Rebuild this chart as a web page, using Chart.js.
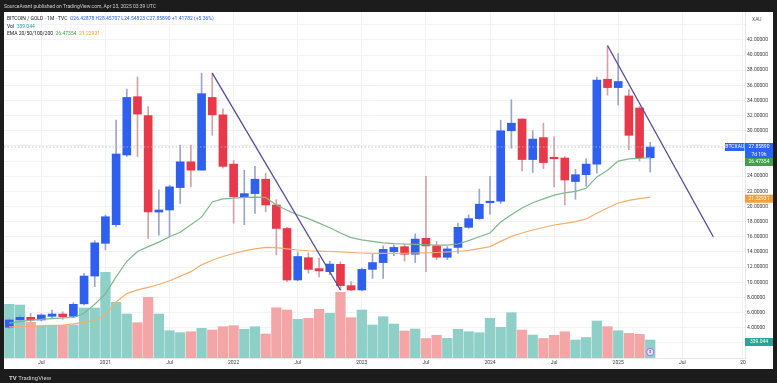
<!DOCTYPE html>
<html><head><meta charset="utf-8">
<script src="https://cdn.jsdelivr.net/npm/chart.js@4.4.0/dist/chart.umd.min.js"></script>
<style>
html,body{margin:0;padding:0;background:#1c1c1c;width:777px;height:383px;overflow:hidden;}
#wrap{position:relative;width:777px;height:383px;}
canvas{position:absolute;left:0;top:0;}
.t{position:absolute;white-space:nowrap;font-family:Roboto,'Liberation Sans',sans-serif;font-size:5px;line-height:6px;z-index:2;}
</style></head><body>
<div id="wrap">
<canvas id="c" width="777" height="383"></canvas>
<div class="t" style="left:4px;top:3px;color:#cfcfcf">SourceAvant published on TradingView.com, Apr 23, 2025 03:39 UTC</div>
<div class="t" style="left:7px;top:15px;color:#131722">BITCOIN / GOLD · 1M · TVC&nbsp;&nbsp;<span style="color:#2962ff">O26.42878 H28.45707 L24.54823 C27.85890 +1.41782 (+5.36%)</span></div>
<div class="t" style="left:7px;top:22.5px;color:#131722">Vol&nbsp;&nbsp;<span style="color:#26a69a">339.044</span></div>
<div class="t" style="left:7px;top:30px;color:#131722">EMA 20/50/100/200&nbsp;&nbsp;<span style="color:#43a047">26.47354</span>&nbsp;&nbsp;<span style="color:#f59d38">21.22931</span></div>
<div class="t" style="left:9px;top:375px;color:#cfcfcf;font-size:6px;"><b>TV</b>&nbsp;TradingView</div>
</div>
<script>
// ---- categories: monthly candles Apr 2020 .. Apr 2025 ----
const monthNames = ['Jan','Feb','Mar','Apr','May','Jun','Jul','Aug','Sep','Oct','Nov','Dec'];
const months = [];
for (let k = 0; k < 61; k++) { const m = (3 + k) % 12, yr = 2020 + Math.floor((3 + k) / 12); months.push(monthNames[m] + ' ' + yr); }

const openV  = [4.05,5.05,5.37,5.02,5.5,5.81,5.5,7.15,10.82,15.14,17.6,26.8,34.5,32.0,19.27,19.54,22.5,25.9,24.8,34.4,32.1,25.6,21.3,21.7,23.6,20.2,17.1,10.3,13.24,11.8,11.4,12.37,9.55,8.98,11.7,12.6,14.03,14.7,13.7,15.8,14.8,13.3,14.6,17.25,18.4,20.5,20.7,30.0,31.55,26.2,29.1,26.5,26.4,23.3,24.2,25.6,36.8,35.7,34.6,33.0,26.42878];
const highV  = [5.2,5.68,5.9,5.85,6.34,6.1,7.3,11.18,15.5,18.88,31.4,35.5,37.1,33.2,22.2,22.8,28.1,28.1,37.6,37.6,32.9,26.1,24.8,25.3,24.4,20.9,17.3,14.0,13.9,13.2,12.8,12.7,10.1,11.9,13.7,14.8,14.9,15.0,16.4,24.0,15.4,14.7,17.8,18.9,22.3,24.0,31.4,34.1,31.6,30.0,31.0,29.2,26.6,24.9,26.3,37.1,41.2,40.2,35.4,33.2,28.45707];
const lowV   = [3.9,4.93,4.8,4.9,5.24,5.1,5.3,7.0,9.41,14.26,17.3,26.6,26.6,15.8,16.2,16.0,20.4,22.6,24.8,29.4,25.1,17.8,17.6,19.1,19.3,13.6,10.1,10.2,11.2,10.7,11.0,8.98,8.9,8.9,10.5,10.5,13.5,12.8,12.6,11.4,13.0,13.0,13.8,17.1,18.3,19.0,20.4,27.7,24.7,24.5,25.0,22.6,20.2,20.95,22.7,24.4,34.7,33.4,27.5,26.0,24.54823];
const closeV = [5.02,5.37,5.02,5.68,5.81,5.46,7.09,10.82,15.2,18.65,26.93,34.4,32.2,19.3,19.54,22.6,25.9,24.8,34.9,32.1,25.3,21.3,21.7,23.6,20.2,17.1,10.3,13.4,11.7,11.5,12.4,9.55,8.98,11.7,12.6,14.35,14.6,13.7,15.7,14.8,13.3,14.4,17.25,18.4,20.3,20.7,30.0,31.0,26.2,28.9,25.8,26.3,23.5,24.2,25.6,36.7,35.7,36.5,29.4,26.44,27.8589];
const volumeV = [1011,998,672,603,603,612,622,942,942,1614,1049,829,665,1143,829,514,477,495,559,527,590,608,541,590,452,947,904,729,748,917,842,1238,759,904,622,778,640,509,546,367,428,371,541,495,477,748,578,853,527,433,367,428,495,339,386,697,590,514,465,446,339.044];
const ema20V = [4.6,4.8,5.0,5.1,5.2,5.3,5.35,5.9,7.1,8.46,10.7,12.77,14.06,14.7,15.3,16.0,16.6,17.6,18.6,20.6,21.0,21.1,21.2,21.25,21.2,20.2,19.5,18.9,18.4,17.8,17.2,16.5,15.9,15.6,15.4,15.2,15.1,15.05,15.0,14.95,14.9,14.9,15.05,15.5,16.0,16.5,17.95,18.9,19.8,20.5,21.0,21.5,21.8,22.0,22.4,23.9,24.8,26.0,26.3,26.35,26.47354];
const ema50V = [4.1,4.15,4.2,4.25,4.3,4.35,4.5,4.7,4.95,5.7,7.4,8.5,9.0,9.33,9.7,10.2,10.8,11.4,12.3,12.9,13.4,13.8,14.15,14.4,14.6,14.56,14.4,14.26,14.16,14.1,14.06,14.0,13.93,13.86,13.82,13.82,13.82,13.83,13.86,13.89,13.93,14.0,14.06,14.2,14.45,14.7,15.4,16.05,16.5,16.9,17.23,17.56,17.78,18.0,18.35,19.1,19.8,20.46,20.82,21.03,21.22931];
const trendLine1 = [{x:19, y:37.6},{x:31, y:8.98}];
const trendLine2 = [{x:56, y:41.25},{x:65.9, y:16.0}];
const lastClose = 27.8589;
const timeTickPos = [3,9,15,21,27,33,39,45,51,57,63,68.68];
const timeTickLabels = ['Jul','2021','Jul','2022','Jul','2023','Jul','2024','Jul','2025','Jul','20'];
const priceTicks = [0,2,4,6,8,10,12,14,16,18,20,22,24,26,28,30,32,34,36,38,40,42,44];

const xMin = -0.495, xMax = 68.87;
const UP = '#2f5fef', DN = '#e8394a';
const isUp = months.map((m,i)=> closeV[i] >= openV[i]);

const bgPlugin = {id:'bg', beforeDraw(chart){
  const c = chart.ctx; c.save();
  c.fillStyle = '#1c1c1c'; c.fillRect(0,0,777,383);
  c.fillStyle = '#ffffff'; c.fillRect(4,12,769,357);
  c.restore();
}};

function box(ctx, x0, x1, yc, h, bg, lines){
  ctx.fillStyle = bg; ctx.fillRect(x0, yc - 4, x1 - x0, h);
  ctx.fillStyle = '#ffffff'; ctx.textAlign = 'center';
  lines.forEach((t,k)=> ctx.fillText(t, (x0 + x1) / 2, yc + k * 7.5));
}

const overlay = {id:'overlay', afterDraw(chart){
  const {ctx, scales} = chart; const x = scales.x, y = scales.y, yv = scales.yv;
  ctx.save();
  ctx.font = '5px Roboto, "Liberation Sans", sans-serif'; ctx.textBaseline = 'middle';
  ctx.fillStyle = '#555'; ctx.textAlign = 'left'; ctx.fillText('XAU', 752, 20);
  const yp = y.getPixelForValue(lastClose);
  box(ctx, 725, 744.5, yp, 8, '#2962ff', ['BTCXAU']);
  box(ctx, 745, 773, yp, 15.5, '#2962ff', ['27.85890','7d 19h']);
  const gy = Math.max(y.getPixelForValue(ema20V[ema20V.length-1]), yp + 15);
  box(ctx, 745, 773, gy, 8, '#43a047', ['26.47354']);
  const oy = y.getPixelForValue(ema50V[ema50V.length-1]) + 1.5;
  box(ctx, 745, 773, oy, 8, '#f59d38', ['21.22931']);
  const vy = yv.getPixelForValue(volumeV[volumeV.length-1]) + 2;
  box(ctx, 745, 773, vy, 8, '#26a69a', ['339.044']);
  // event marker icon under last candle
  const ix = x.getPixelForValue(months.length - 1);
  ctx.beginPath(); ctx.arc(ix, 352, 3.6, 0, Math.PI*2);
  ctx.fillStyle = '#efe4fb'; ctx.fill(); ctx.lineWidth = 1; ctx.strokeStyle = '#9b6fe0'; ctx.stroke();
  ctx.fillStyle = '#7e4fd0'; ctx.font = 'bold 4px Roboto'; ctx.textAlign='center'; ctx.fillText('$', ix, 352.3);
  ctx.restore();
}};

const idx = months.map((m,i)=>i);
const datasets = [
  { type:'bar', label:'Vol', yAxisID:'yv', order:10, grouped:false, barThickness:9.6,
    data: idx.map(i=>({x:i, y:volumeV[i]})),
    backgroundColor: idx.map(i=> isUp[i] ? '#8ed0c8' : '#f4a5a5') },
  { type:'bar', label:'wick', yAxisID:'y', order:8, grouped:false, barThickness:1, minBarLength:1,
    data: idx.map(i=>({x:i, y:[lowV[i], highV[i]]})),
    backgroundColor: idx.map(i=> isUp[i] ? '#98a6cc' : '#d6a0a8') },
  { type:'bar', label:'body', yAxisID:'y', order:7, grouped:false, barThickness:8, minBarLength:1.5,
    data: idx.map(i=>({x:i, y:[openV[i], closeV[i]]})),
    backgroundColor: idx.map(i=> isUp[i] ? UP : DN) },
  { type:'line', label:'EMA50', yAxisID:'y', order:5, data: idx.map(i=>({x:i, y:ema50V[i]})),
    borderColor:'#f4ae6a', borderWidth:1.2, pointRadius:0, tension:0 },
  { type:'line', label:'EMA20', yAxisID:'y', order:4, data: idx.map(i=>({x:i, y:ema20V[i]})),
    borderColor:'#7fb88b', borderWidth:1.2, pointRadius:0, tension:0 },
  { type:'line', label:'last', yAxisID:'y', order:3, data: [{x:xMin, y:lastClose},{x:xMax, y:lastClose}],
    borderColor:'#b2b5be', borderWidth:0.8, borderDash:[1.5,2], pointRadius:0 },
  { type:'line', label:'trend1', yAxisID:'y', order:2, data: trendLine1,
    borderColor:'#564a98', borderWidth:1.3, pointRadius:0 },
  { type:'line', label:'trend2', yAxisID:'y', order:2, data: trendLine2,
    borderColor:'#564a98', borderWidth:1.3, pointRadius:0 }
];

new Chart(document.getElementById('c'), {
  type:'bar',
  data:{ datasets },
  plugins:[bgPlugin, overlay],
  options:{
    responsive:false, animation:false, devicePixelRatio:1,
    layout:{ padding:{ left:4, top:12, right:4, bottom:15 } },
    plugins:{ legend:{display:false}, tooltip:{enabled:false} },
    scales:{
      x:{ type:'linear', min:xMin, max:xMax, offset:false, bounds:'data',
        grid:{ color:'#f1f2f5', drawTicks:false, offset:false }, border:{ color:'#e6e7ea' },
        ticks:{ autoSkip:false, maxRotation:0, padding:2, color:'#3a3a3a',
          font:{ size:5, family:'Roboto' }, callback:(v,i)=> timeTickLabels[i] },
        afterBuildTicks:(s)=>{ s.ticks = timeTickPos.map(v=>({value:v})); },
        afterFit:(s)=>{ s.height = 10; } },
      y:{ type:'linear', position:'right', min:0, max:45.68, bounds:'data',
        grid:{ color:'#f1f2f5', drawTicks:false }, border:{ color:'#e6e7ea' },
        ticks:{ padding:2, color:'#3a3a3a', font:{ size:5, family:'Roboto' },
          callback:(v)=> (v>=2 && v<=42) ? v.toFixed(5) : '' },
        afterBuildTicks:(s)=>{ s.ticks = priceTicks.map(v=>({value:v})); },
        afterFit:(s)=>{ s.width = 28; } },
      yv:{ type:'linear', display:false, min:0, max:6517 }
    }
  }
});
</script>
</body></html>
